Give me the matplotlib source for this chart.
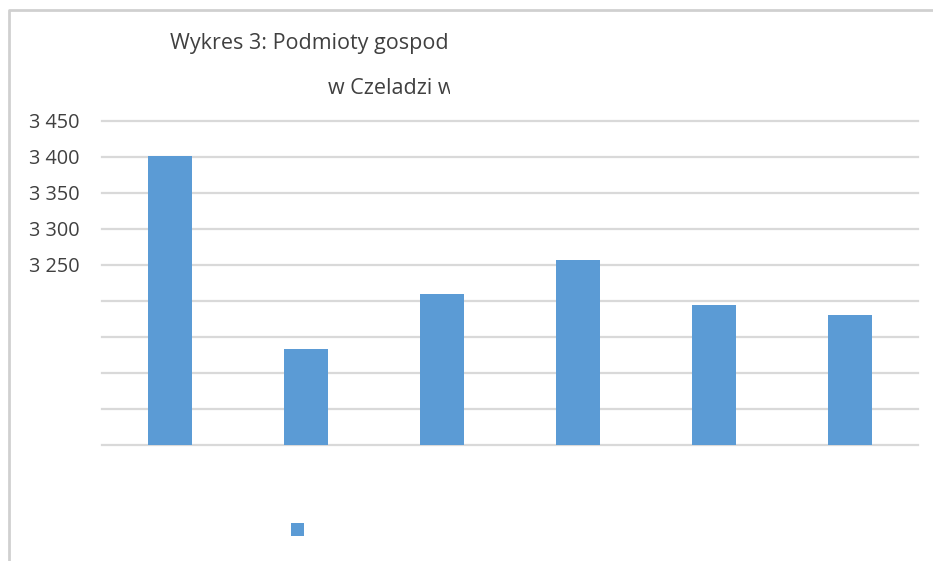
import numpy as np
import matplotlib
matplotlib.use("Agg")
import matplotlib.pyplot as plt
from matplotlib.patches import Rectangle
from matplotlib.lines import Line2D
from matplotlib.ticker import FuncFormatter, MultipleLocator

plt.rcParams['font.family'] = ['Open Sans', 'DejaVu Sans']

# dane (liczba podmiotow)
wartosci = [3401, 3134, 3210, 3257, 3195, 3181]
tytul_1 = "Wykres 3: Podmioty gospod"
tytul_2 = "w Czeladzi w"
y_min, y_max, y_krok = 3000, 3450, 50
y_opisy_od = 3250

W, H = 933, 561
fig = plt.figure(figsize=(W / 100, H / 100), dpi=100)
fig.patch.set_facecolor('white')

ax = fig.add_axes([102 / W, 1 - 445 / H, 816 / W, 324 / H])
x = np.arange(len(wartosci))
bars = ax.bar(x, wartosci, width=0.3235, color='#5b9bd5', zorder=3)

ax.set_xlim(-0.5, len(wartosci) - 0.5)
ax.set_ylim(y_min, y_max)
ax.yaxis.set_major_locator(MultipleLocator(y_krok))


def fmt(v, pos):
    if v < y_opisy_od - 1:
        return ''
    s = '{:,.0f}'.format(v).replace(',', ' ')
    return s


ax.yaxis.set_major_formatter(FuncFormatter(fmt))
ax.tick_params(axis='y', length=0, pad=16, labelsize=14.3, labelcolor='#404040')
ax.set_xticks([])
ax.grid(axis='y', color='#d9d9d9', linewidth=1.6, zorder=0)
for gl in ax.get_ygridlines():
    gl.set_clip_on(False)
for s in ax.spines.values():
    s.set_visible(False)

# ramka wykresu
fig.add_artist(Line2D([9 / W, 9 / W, 1], [0, 1 - 10 / H, 1 - 10 / H],
                      transform=fig.transFigure, color='#d0d0d0', lw=2))

# tytul przyciety jak w oryginale
clip = Rectangle((0, 0), 450 / W, 1, transform=fig.transFigure)
t1 = fig.text(170 / W, 1 - 43 / H, tytul_1, fontsize=15.5, color='#404040',
              ha='left', va='center')
t2 = fig.text(328 / W, 1 - 88 / H, tytul_2, fontsize=15.5, color='#404040',
              ha='left', va='center')
for t in (t1, t2):
    t.set_clip_path(clip)

# legenda bez opisu
fig.legend([bars[0]], [''], loc='center left', bbox_to_anchor=(291 / W, 1 - 531.5 / H),
           frameon=False, fontsize=14, handlelength=0.68, handleheight=0.68,
           borderpad=0, borderaxespad=0, handletextpad=0)

fig.savefig('out.png', dpi=100)
